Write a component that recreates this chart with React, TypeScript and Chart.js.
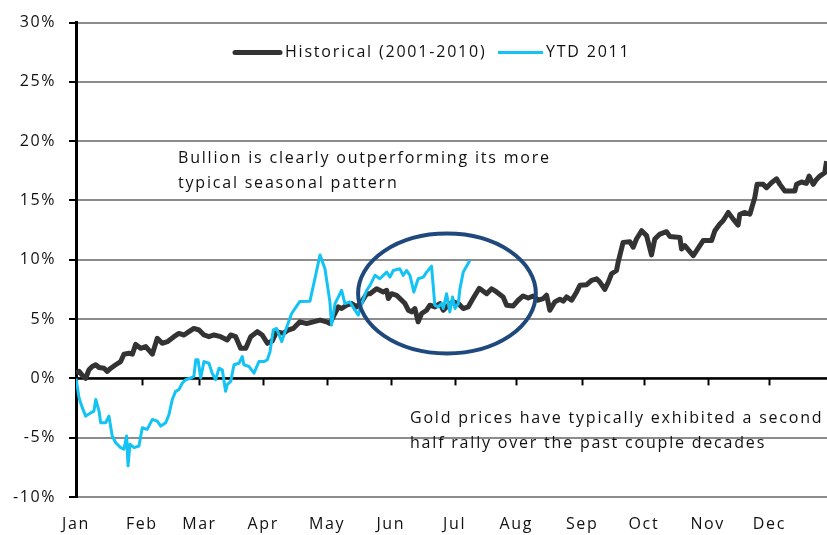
import React, { useEffect, useRef } from 'react';
import { Chart, registerables } from 'chart.js';

Chart.register(...registerables);

// ---------- data ----------
const MONTHS = ['Jan', 'Feb', 'Mar', 'Apr', 'May', 'Jun', 'Jul', 'Aug', 'Sep', 'Oct', 'Nov', 'Dec'];
const MONTH_START_DAYS = [0, 32, 60, 91, 122, 153, 184, 214, 246, 276, 307, 337];
const Y_MIN = -10;
const Y_MAX = 30;
const Y_STEP = 5;

const HIST_LABEL = 'Historical (2001-2010)';
const HIST_DAYS = [
  0, 1.5, 3.1, 4.7, 6.3, 7.9, 9.6, 11.2, 13.6, 15.2, 16.9, 19.3, 21.7, 23.3, 25.8, 27.4, 29.0, 31.4, 33.9, 37.1,
  39.5, 41.9, 44.4, 47.6, 50.0, 52.5, 54.9, 57.3, 59.8, 62.2, 64.6, 67.1, 70.3, 73.5, 75.2, 77.6, 80.0, 82.5, 84.9, 88.1,
  90.5, 93.0, 95.4, 97.5, 100.7, 103.2, 105.6, 108.8, 112.1, 115.3, 118.6, 121.8, 123.4, 125.0, 127.5, 129.1, 131.5, 134.0, 136.4, 138.8,
  141.3, 142.9, 146.1, 149.3, 151.0, 151.8, 153.4, 155.8, 158.3, 159.9, 161.5, 163.1, 164.7, 166.3, 168.0, 170.4, 172.0, 174.4, 176.9, 178.5,
  180.9, 183.3, 185.8, 188.2, 190.6, 193.1, 196.0, 199.6, 202.0, 204.4, 207.6, 209.3, 212.5, 214.9, 217.3, 219.8, 222.2, 224.6, 227.1, 228.7,
  230.3, 232.7, 235.2, 236.8, 238.4, 240.9, 243.3, 244.9, 248.2, 250.6, 253.0, 254.6, 257.0, 258.7, 260.3, 262.7, 263.5, 265.9, 269.2, 270.8,
  272.4, 274.9, 277.3, 279.7, 281.3, 283.8, 287.0, 288.6, 291.1, 293.5, 294.3, 295.9, 300.0, 304.8, 308.9, 310.5, 312.9, 314.5, 317.0, 319.4,
  321.8, 322.6, 325.1, 327.5, 329.9, 331.0, 334.0, 335.6, 338.0, 340.5, 342.1, 344.5, 349.4, 350.2, 352.6, 355.0, 356.3, 358.3, 359.9, 361.5,
  363.9, 364.8,
];
const HIST_VALUES = [
  0.45, 0.59, 0.25, 0.0, 0.73, 1.0, 1.15, 0.92, 0.86, 0.59, 0.86, 1.15, 1.42, 2.04, 2.12, 2.04, 2.87, 2.54, 2.68, 2.04,
  3.38, 2.96, 3.1, 3.52, 3.79, 3.66, 3.94, 4.21, 4.08, 3.66, 3.52, 3.66, 3.52, 3.24, 3.66, 3.52, 2.54, 2.54, 3.52, 3.94,
  3.66, 2.96, 3.16, 3.94, 3.79, 4.08, 4.21, 4.77, 4.63, 4.77, 4.92, 4.77, 4.63, 5.19, 6.03, 5.89, 6.17, 6.31, 6.03, 6.45,
  7.14, 7.14, 7.56, 7.29, 7.43, 6.73, 7.14, 7.01, 6.59, 6.31, 5.75, 5.61, 5.89, 4.77, 5.47, 5.75, 6.17, 6.03, 6.31, 5.75,
  6.17, 6.45, 6.31, 5.89, 6.03, 6.78, 7.6, 7.14, 7.56, 7.29, 6.87, 6.17, 6.11, 6.59, 6.95, 6.78, 6.95, 6.59, 6.73, 7.01,
  5.75, 6.45, 6.68, 6.51, 6.87, 6.59, 7.29, 7.85, 7.9, 8.27, 8.4, 8.12, 7.51, 8.12, 8.82, 9.1, 9.8, 11.47, 11.53, 11.06,
  11.75, 12.45, 12.04, 10.41, 11.75, 12.17, 12.37, 11.97, 11.93, 11.89, 10.91, 11.2, 10.36, 11.62, 11.62, 12.45, 13.01, 13.29, 13.99, 13.43,
  12.92, 13.84, 13.99, 13.84, 15.24, 16.36, 16.36, 16.08, 16.5, 16.83, 16.36, 15.8, 15.8, 16.36, 16.56, 16.44, 17.06, 16.36, 16.78, 17.06,
  17.34, 18.32,
];

const YTD_LABEL = 'YTD 2011';
const YTD_DAYS = [
  0, 1.5, 3.1, 4.7, 7.1, 8.7, 9.6, 11.2, 12.0, 14.4, 16.0, 17.6, 19.3, 21.7, 23.3, 24.6, 25.3, 26.2, 28.2, 30.6,
  32.2, 34.6, 37.1, 39.5, 41.2, 43.6, 45.2, 46.8, 48.4, 50.0, 51.7, 53.3, 55.7, 57.3, 58.2, 59.3, 60.6, 62.2, 64.6, 66.2,
  67.9, 69.5, 71.1, 72.7, 73.5, 75.2, 76.8, 79.2, 80.8, 81.6, 84.1, 86.5, 88.9, 91.4, 93.0, 94.3, 95.9, 97.5, 100.0, 101.6,
  104.8, 108.8, 113.7, 116.1, 118.6, 121.0, 123.4, 124.2, 125.9, 129.1, 130.7, 133.1, 135.6, 137.2, 138.0, 141.3, 142.9, 145.3, 147.7, 151.0,
  152.6, 154.2, 157.4, 159.0, 160.7, 162.3, 164.2, 166.3, 168.8, 170.4, 172.8, 174.4, 176.0, 177.7, 178.5, 180.1, 181.7, 183.0, 184.2, 185.8,
  186.6, 188.2, 191.4,
];
const YTD_VALUES = [
  0.0, -1.65, -2.49, -3.18, -2.91, -2.76, -1.78, -2.76, -3.74, -3.74, -3.18, -4.86, -5.42, -5.84, -5.97, -4.86, -7.37, -5.55, -5.84, -5.7,
  -4.16, -4.3, -3.46, -3.6, -4.02, -3.74, -3.04, -1.78, -1.09, -0.95, -0.39, -0.11, 0.03, 0.17, 1.57, 1.57, 0.03, 1.42, 1.28, 0.44,
  -0.11, 0.86, 0.73, -1.09, -0.53, -0.25, 1.15, 1.28, 1.84, 1.15, 1.0, 0.44, 1.42, 1.42, 1.57, 2.26, 4.1, 4.21, 3.1, 3.94,
  5.47, 6.49, 6.51, 8.4, 10.41, 9.24, 6.45, 4.5, 6.31, 7.43, 6.31, 6.45, 5.75, 5.34, 5.89, 7.43, 7.85, 8.69, 8.4, 8.96,
  8.54, 9.1, 9.24, 8.69, 9.1, 8.69, 7.29, 8.4, 8.54, 8.96, 9.46, 6.17, 6.03, 6.31, 5.89, 7.14, 5.61, 6.87, 5.89, 6.31,
  7.56, 8.96, 9.94,
];

const NOTE_TOP = ['Bullion is clearly outperforming its more', 'typical seasonal pattern'];
const NOTE_BOTTOM = ['Gold prices have typically exhibited a second', 'half rally over the past couple decades'];

// ellipse annotation (data units: day, percent)
const ELLIPSE_CENTER_DAY = 180.3;
const ELLIPSE_CENTER_VALUE = 7.16;
const ELLIPSE_RADIUS_DAYS = 43.2;
const ELLIPSE_RADIUS_VALUE = 5.05;

// ---------- styles ----------
const FONT = "'Open Sans', 'DejaVu Sans', sans-serif";
const TEXT_COLOR = '#111111';
const HIST_COLOR = '#333333';
const YTD_COLOR = '#12C3F4';
const GRID_COLOR = '#8C8C8C';
const ELLIPSE_COLOR = '#1F497D';

const spacingPlugin = {
  id: 'letterSpacing',
  beforeDraw(chart: any) {
    try {
      (chart.ctx as any).letterSpacing = '1.6px';
    } catch (e) {}
  },
  afterDraw(chart: any) {
    try {
      (chart.ctx as any).letterSpacing = '0px';
    } catch (e) {}
  },
};

const axisTicksPlugin = {
  id: 'zeroAxisTicks',
  beforeDatasetsDraw(chart: any) {
    const { ctx, scales } = chart;
    const x = scales.x;
    const y = scales.y;
    const y0 = y.getPixelForValue(0);
    ctx.save();
    ctx.strokeStyle = '#000';
    ctx.lineWidth = 2.5;
    ctx.beginPath();
    ctx.moveTo(chart.chartArea.left, y0);
    ctx.lineTo(chart.chartArea.right, y0);
    ctx.stroke();
    ctx.lineWidth = 2;
    MONTH_START_DAYS.forEach((d) => {
      if (d === 0) return;
      const px = Math.round(x.getPixelForValue(d)) + 0.5;
      ctx.beginPath();
      ctx.moveTo(px, y0);
      ctx.lineTo(px, y0 + 7);
      ctx.stroke();
    });
    ctx.restore();
  },
};

const overlayPlugin = {
  id: 'overlay',
  afterDatasetsDraw(chart: any) {
    const { ctx, scales, chartArea } = chart;
    const x = scales.x;
    const y = scales.y;
    ctx.save();
    // ellipse
    const cx = x.getPixelForValue(ELLIPSE_CENTER_DAY);
    const cy = y.getPixelForValue(ELLIPSE_CENTER_VALUE);
    const rx = x.getPixelForValue(ELLIPSE_CENTER_DAY + ELLIPSE_RADIUS_DAYS) - cx;
    const ry = cy - y.getPixelForValue(ELLIPSE_CENTER_VALUE + ELLIPSE_RADIUS_VALUE);
    ctx.strokeStyle = ELLIPSE_COLOR;
    ctx.lineWidth = 4;
    ctx.beginPath();
    ctx.ellipse(cx, cy, rx, ry, 0, 0, Math.PI * 2);
    ctx.stroke();

    // notes
    ctx.fillStyle = TEXT_COLOR;
    ctx.font = `16px ${FONT}`;
    ctx.textAlign = 'left';
    ctx.textBaseline = 'middle';
    try { (ctx as any).letterSpacing = '1.8px'; } catch (e) {}
    const L = chartArea.left;
    const T = chartArea.top;
    ctx.fillText(NOTE_TOP[0], L + 102, T + 136);
    ctx.fillText(NOTE_TOP[1], L + 102, T + 161);
    ctx.fillText(NOTE_BOTTOM[0], L + 334, T + 396);
    ctx.fillText(NOTE_BOTTOM[1], L + 334, T + 421);

    // legend
    const ly = T + 30;
    ctx.lineCap = 'round';
    ctx.strokeStyle = HIST_COLOR;
    ctx.lineWidth = 5;
    ctx.beginPath();
    ctx.moveTo(L + 159, ly);
    ctx.lineTo(L + 204, ly);
    ctx.stroke();
    ctx.lineCap = 'butt';
    ctx.strokeStyle = YTD_COLOR;
    ctx.lineWidth = 3;
    ctx.beginPath();
    ctx.moveTo(L + 422, ly);
    ctx.lineTo(L + 467, ly);
    ctx.stroke();
    try { (ctx as any).letterSpacing = '1.8px'; } catch (e) {}
    ctx.fillText(HIST_LABEL, L + 209, ly);
    ctx.fillText(YTD_LABEL, L + 470, ly);
    ctx.restore();
  },
};

export default function App() {
  const canvasRef = useRef<HTMLCanvasElement | null>(null);

  useEffect(() => {
    document.body.style.margin = '0';
    const canvas = canvasRef.current;
    if (!canvas) return;
    const histData = HIST_DAYS.map((d, i) => ({ x: d, y: HIST_VALUES[i] }));
    const ytdData = YTD_DAYS.map((d, i) => ({ x: d, y: YTD_VALUES[i] }));

    const chart = new Chart(canvas, {
      type: 'line',
      data: {
        datasets: [
          {
            label: YTD_LABEL,
            data: ytdData,
            borderColor: YTD_COLOR,
            borderWidth: 3,
            pointRadius: 0,
            tension: 0,
            borderJoinStyle: 'round',
            order: 0,
          },
          {
            label: HIST_LABEL,
            data: histData,
            borderColor: HIST_COLOR,
            borderWidth: 5,
            pointRadius: 0,
            tension: 0,
            borderJoinStyle: 'round',
            order: 1,
          },
        ],
      },
      options: {
        animation: false,
        responsive: false,
        devicePixelRatio: 1,
        layout: { padding: { top: 19, right: 0, left: 0, bottom: 0 } },
        plugins: {
          legend: { display: false },
          tooltip: { enabled: false },
        },
        scales: {
          x: {
            type: 'linear',
            min: 0,
            max: 365,
            afterBuildTicks: (scale: any) => {
              scale.ticks = MONTH_START_DAYS.map((d) => ({ value: d }));
            },
            afterFit: (scale: any) => {
              scale.height = 38;
            },
            grid: { display: false, drawTicks: false },
            border: { display: false },
            ticks: {
              autoSkip: false,
              maxRotation: 0,
              padding: 18,
              color: TEXT_COLOR,
              font: { family: FONT, size: 16 },
              callback: (value: any) => {
                const idx = MONTH_START_DAYS.indexOf(Number(value));
                return idx >= 0 ? MONTHS[idx] : '';
              },
            },
          },
          y: {
            min: Y_MIN,
            max: Y_MAX,
            afterFit: (scale: any) => {
              scale.width = 76;
            },
            ticks: {
              stepSize: Y_STEP,
              padding: 13,
              color: TEXT_COLOR,
              font: { family: FONT, size: 16 },
              callback: (value: any) => `${value}%`,
            },
            grid: {
              color: GRID_COLOR,
              lineWidth: 2,
              tickColor: '#000',
              tickLength: 7,
              tickWidth: 2,
            },
            border: { display: true, color: '#000', width: 3 },
          },
        },
      },
      plugins: [spacingPlugin, axisTicksPlugin, overlayPlugin],
    } as any);

    return () => chart.destroy();
  }, []);

  return (
    <div style={{ position: 'absolute', left: 0, top: 0, width: 827, height: 535, background: '#fff' }}>
      <canvas ref={canvasRef} width={827} height={535} style={{ width: 827, height: 535 }} />
    </div>
  );
}
